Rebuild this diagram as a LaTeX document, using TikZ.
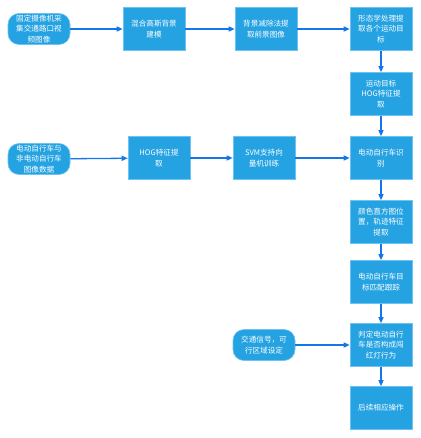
\documentclass[tikz,border=0pt]{standalone}
\usepackage{fontspec}
\setmainfont{Noto Sans CJK SC}
\usepackage{tikz}
\usetikzlibrary{arrows.meta, positioning}
\definecolor{boxblue}{RGB}{36,162,226}
\definecolor{edgeblue}{RGB}{110,195,240}
\definecolor{arrowblue}{RGB}{22,118,232}
\tikzset{
  basebox/.style={
    rectangle, draw=edgeblue, fill=boxblue, text=white, align=center,
    font=\fontsize{7.6}{10.5}\selectfont, inner sep=1pt, line width=0.6pt
  },
  procbox/.style={basebox, minimum width=62pt, minimum height=43pt},
  termbox/.style={basebox, rounded corners=11pt, minimum width=62pt, minimum height=31pt},
  arrow/.style={-{Triangle[length=6pt,width=5pt]}, line width=1.3pt, color=arrowblue}
}
\begin{document}
\begin{tikzpicture}[x=1pt, y=-1pt]
  \useasboundingbox[fill=white] (0,0) rectangle (420,438);

  % top row: video pipeline
  \node[termbox] (video)  at (39,29)  {固定摄像机采\\集交通路口视\\频图像};
  \node[procbox] (gauss)  at (154,29) {混合高斯背景\\建模};
  \node[procbox] (bgsub)  at (266,29) {背景减除法提\\取前景图像};
  \node[procbox] (morph)  at (381,29) {形态学处理提\\取各个运动目\\标};
  \node[procbox] (movhog) at (381,94) {运动目标\\HOG特征提\\取};

  % second row: training
  \node[termbox] (data)   at (39,159)  {电动自行车与\\非电动自行车\\图像数据};
  \node[procbox] (hog)    at (159,158) {HOG特征提\\取};
  \node[procbox] (svm)    at (264,158) {SVM支持向\\量机训练};
  \node[procbox] (recog)  at (381,158) {电动自行车识\\别};

  % right column
  \node[procbox] (color)  at (381,222) {颜色直方图位\\置，轨迹特征\\提取};
  \node[procbox] (track)  at (381,282) {电动自行车目\\标匹配跟踪};
  \node[procbox] (judge)  at (381,345) {判定电动自行\\车是否构成闯\\红灯行为};
  \node[termbox] (signal) at (264,345) {交通信号，可\\行区域设定};
  \node[procbox] (follow) at (381,408) {后续相应操作};

  \draw[arrow] (video) -- (gauss);
  \draw[arrow] (gauss) -- (bgsub);
  \draw[arrow] (bgsub) -- (morph);
  \draw[arrow] (morph) -- (movhog);
  \draw[arrow] (movhog) -- (recog);

  \draw[arrow] (data) -- (hog);
  \draw[arrow] (hog) -- (svm);
  \draw[arrow] (svm) -- (recog);

  \draw[arrow] (recog) -- (color);
  \draw[arrow] (color) -- (track);
  \draw[arrow] (track) -- (judge);
  \draw[arrow] (signal) -- (judge);
  \draw[arrow] (judge) -- (follow);
\end{tikzpicture}
\end{document}
